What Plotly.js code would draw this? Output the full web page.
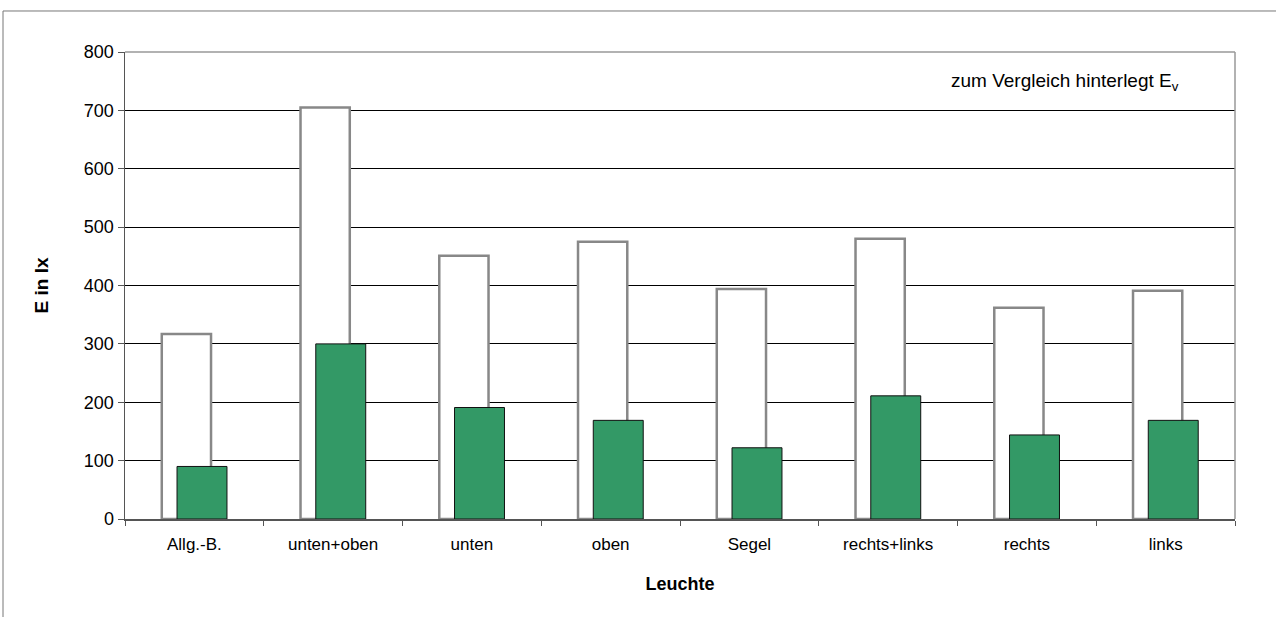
<!DOCTYPE html>
<html><head><meta charset="utf-8">
<script src="https://cdn.plot.ly/plotly-3.0.1.min.js"></script>
<style>html,body{margin:0;padding:0;background:#fff}#chart{width:1276px;height:617px}</style>
</head><body><div id="chart"></div>
<script>
const categories = ["Allg.-B.", "unten+oben", "unten", "oben", "Segel", "rechts+links", "rechts", "links"];
const referenceEv = [317, 705, 451, 475, 394, 480, 362, 391];
const measuredE = [90, 300, 191, 169, 122, 211, 144, 169];
const yTicks = [0, 100, 200, 300, 400, 500, 600, 700, 800];

const traces = [
  {type: 'bar', x: categories, y: referenceEv, width: 0.355, offset: -0.235,
   marker: {color: 'rgba(255,255,255,1)', line: {color: '#888888', width: 2.5}}, hoverinfo: 'y'},
  {type: 'bar', x: categories, y: measuredE, width: 0.36, offset: -0.125,
   marker: {color: '#339966', line: {color: '#111111', width: 1}}, hoverinfo: 'y'}
];

const layout = {
  width: 1276, height: 617,
  margin: {l: 125, r: 41, t: 52, b: 98},
  paper_bgcolor: '#ffffff', plot_bgcolor: '#ffffff',
  barmode: 'overlay', showlegend: false,
  font: {family: 'Liberation Sans, Arial, sans-serif', color: '#000'},
  xaxis: {
    type: 'category', tickson: 'boundaries', ticks: 'outside', ticklen: 5, tickcolor: '#555',
    showline: true, linecolor: '#555', linewidth: 1.5, showgrid: false,
    tickfont: {size: 17}, ticklabelstandoff: 9, range: [-0.5, 7.5],
    title: {text: '<b>Leuchte</b>', font: {size: 18}, standoff: 24}
  },
  yaxis: {
    range: [0, 800], tickvals: yTicks, ticks: 'outside', ticklen: 6, tickcolor: '#555',
    showline: true, linecolor: '#555', linewidth: 1.5,
    showgrid: true, gridcolor: '#000', gridwidth: 1, zeroline: false,
    tickfont: {size: 18}, title: {text: '<b>E in lx</b>', font: {size: 19}, standoff: 30}
  },
  shapes: [
    {type: 'line', xref: 'paper', yref: 'paper', x0: 0, x1: 1, y0: 1, y1: 1, line: {color: '#999', width: 1.5}},
    {type: 'line', xref: 'paper', yref: 'paper', x0: 1, x1: 1, y0: 0, y1: 1, line: {color: '#999', width: 1.5}},
    {type: 'rect', xref: 'paper', yref: 'paper', x0: -0.1099, x1: 1.2, y0: -0.3, y1: 1.0878, line: {color: '#777', width: 1}, layer: 'below'}
  ],
  annotations: [
    {xref: 'paper', yref: 'paper', x: 0.847, y: 0.936, xanchor: 'center', yanchor: 'middle', showarrow: false,
     text: 'zum Vergleich hinterlegt E<sub>v</sub>', font: {size: 19}}
  ]
};
Plotly.newPlot('chart', traces, layout, {displayModeBar: false, staticPlot: true});
</script></body></html>
